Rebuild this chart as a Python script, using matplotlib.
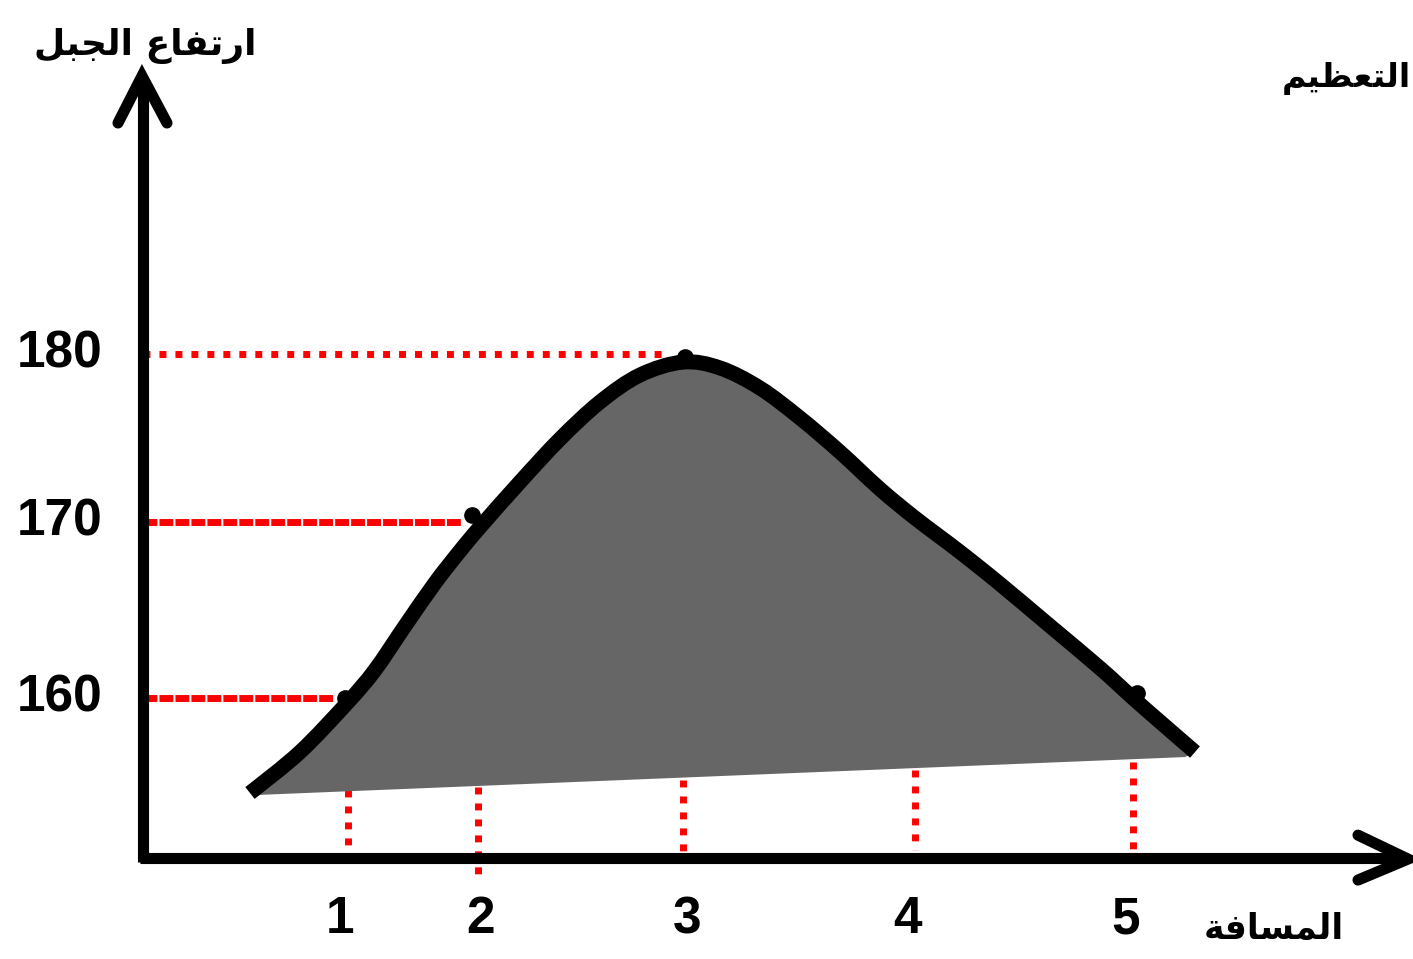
import numpy as np
import matplotlib
matplotlib.use("Agg")
import matplotlib.pyplot as plt
from matplotlib.path import Path
from matplotlib.patches import PathPatch

# ---------------- data ----------------
# mountain profile: distance (arbitrary units) and height
profile_d = [1.07, 1.57, 2.05, 2.32, 2.62, 2.92, 3.17, 3.37, 3.77, 4.17, 4.57,
             4.97, 5.40, 5.77, 6.17, 6.57, 6.97, 7.37, 7.72, 8.17, 8.57, 9.07,
             9.57, 9.90, 10.22, 10.52]
profile_h = [154.48, 156.86, 159.77, 161.63, 164.19, 166.69, 168.55, 169.94,
             172.56, 175.06, 177.21, 178.78, 179.53, 179.19, 178.02, 176.28,
             174.30, 172.15, 170.47, 168.49, 166.63, 164.19, 161.74, 160.00,
             158.37, 156.86]
# base of grey fill
base_d = [1.12, 10.42]
base_h = [154.36, 156.57]

# labelled points 1..5
point_d = [2.02, 3.29, 5.42, 9.94]
point_h = [160.0, 170.64, 179.83, 160.29]

# guide lines
hguide_h = [180.0, 170.23, 160.0]
hguide_end = [5.22, 3.19, 1.90]
hguide_style = ["dot", "dash", "dash"]
vguide_d = [2.05, 3.35, 5.40, 7.72, 9.90]
vguide_top = [154.65, 154.83, 155.23, 155.81, 156.28]
vguide_bot = [150.70, 149.71, 150.47, 151.16, 151.05]

xtick_labels = ["1", "2", "3", "4", "5"]
xtick_pos = [1.97, 3.38, 5.44, 7.64, 9.83]
ytick_labels = ["180", "170", "160"]
ytick_pos = [180.0, 170.23, 160.0]

title_y = "ارتفاع الجبل"
title_x = "المسافة"
title_corner = "التعظيم"

# ---------------- simple Arabic shaping ----------------
FORMS = {  # iso, fin, ini, med
    'ا': (0xFE8D, 0xFE8E, None, None),
    'ر': (0xFEAD, 0xFEAE, None, None),
    'ة': (0xFE93, 0xFE94, None, None),
    'ت': (0xFE95, 0xFE96, 0xFE97, 0xFE98),
    'ف': (0xFED1, 0xFED2, 0xFED3, 0xFED4),
    'ع': (0xFEC9, 0xFECA, 0xFECB, 0xFECC),
    'ل': (0xFEDD, 0xFEDE, 0xFEDF, 0xFEE0),
    'ج': (0xFE9D, 0xFE9E, 0xFE9F, 0xFEA0),
    'ب': (0xFE8F, 0xFE90, 0xFE91, 0xFE92),
    'ظ': (0xFEC5, 0xFEC6, 0xFEC7, 0xFEC8),
    'ي': (0xFEF1, 0xFEF2, 0xFEF3, 0xFEF4),
    'م': (0xFEE1, 0xFEE2, 0xFEE3, 0xFEE4),
    'س': (0xFEB1, 0xFEB2, 0xFEB3, 0xFEB4),
}


def shape(text):
    out = []
    for i, c in enumerate(text):
        if c not in FORMS:
            out.append(c)
            continue
        f = FORMS[c]
        dual = f[2] is not None
        prev = text[i - 1] if i > 0 else None
        nxt = text[i + 1] if i + 1 < len(text) else None
        jp = prev in FORMS and FORMS[prev][2] is not None
        jn = dual and nxt in FORMS
        if jp and jn:
            cp = f[3]
        elif jp:
            cp = f[1]
        elif jn:
            cp = f[2]
        else:
            cp = f[0]
        out.append(chr(cp))
    return "".join(out[::-1])


def smooth_path_vertices(xs, ys):
    """Catmull-Rom through the given points, expressed as cubic Bezier path."""
    P = np.column_stack([xs, ys])
    n = len(P)
    verts = [P[0]]
    codes = [Path.MOVETO]
    for i in range(n - 1):
        p0 = P[i - 1] if i > 0 else P[i]
        p1 = P[i]
        p2 = P[i + 1]
        p3 = P[i + 2] if i + 2 < n else P[i + 1]
        c1 = p1 + (p2 - p0) / 6.0
        c2 = p2 - (p3 - p1) / 6.0
        verts += [c1, c2, p2]
        codes += [Path.CURVE4] * 3
    return verts, codes


# ---------------- figure ----------------
fig = plt.figure(figsize=(14.13, 9.59), dpi=100)
ax = fig.add_axes([0, 0, 1, 1])
ax.set_xlim(-1.43, 12.70)
ax.set_ylim(144.83, 200.58)
ax.axis("off")

RED = "#ff0000"

verts, codes = smooth_path_vertices(profile_d, profile_h)

# grey fill (profile on top, straight base below)
fverts = list(verts) + [(base_d[1], base_h[1]), (base_d[0], base_h[0]),
                        verts[0]]
fcodes = list(codes) + [Path.LINETO, Path.LINETO, Path.CLOSEPOLY]
ax.add_patch(PathPatch(Path(fverts, fcodes), facecolor="#666666",
                       edgecolor="none", lw=0, zorder=2))

# guide lines
for h, e, s in zip(hguide_h, hguide_end, hguide_style):
    ln, = ax.plot([0, e], [h, h], color=RED, lw=5, zorder=1)
    if s == "dot":
        ln.set_dashes((1.0, 1.3))
    else:
        ln.set_dashes((2.0, 0.3))
    ln.set_dash_capstyle("butt")
for d, t, b in zip(vguide_d, vguide_top, vguide_bot):
    ln, = ax.plot([d, d], [t, b], color=RED, lw=5, zorder=1)
    ln.set_dashes((1.0, 1.3))
    ln.set_dash_capstyle("butt")

# profile line
ax.add_patch(PathPatch(Path(verts, codes), facecolor="none",
                       edgecolor="black", lw=10.8, zorder=4,
                       capstyle="butt", joinstyle="round"))
ax.plot(point_d, point_h, "o", color="black", ms=11, zorder=5)

# axes with arrows
AXW = 8
ax.plot([0, 0], [150.45, 196.0], color="black", lw=AXW, zorder=3,
        solid_capstyle="butt")
ax.plot([-0.03, 12.6], [150.70, 150.70], color="black", lw=AXW, zorder=3,
        solid_capstyle="butt")
ax.plot([-0.25, -0.01, 0.24], [193.43, 196.16, 193.43], color="black", lw=AXW,
        zorder=3, solid_capstyle="round", solid_joinstyle="miter")
ax.plot([12.15, 12.65, 12.15], [152.03, 150.64, 149.42], color="black", lw=AXW,
        zorder=3, solid_capstyle="round", solid_joinstyle="miter")

# tick labels
for lab, x in zip(xtick_labels, xtick_pos):
    ax.text(x, 147.1, lab, ha="center", va="center", fontsize=37,
            fontweight="bold", family="Liberation Sans")
for lab, y in zip(ytick_labels, ytick_pos):
    ax.text(-0.40, y, lab, ha="right", va="center", fontsize=37,
            fontweight="bold", family="Liberation Sans")

AR = ["DejaVu Sans"]
ax.text(0.02, 197.9, shape(title_y), ha="center", va="center", fontsize=26,
        fontweight="bold", family=AR)
ax.text(12.68, 196.0, shape(title_corner), ha="right", va="center",
        fontsize=24, fontweight="bold", family=AR)
ax.text(11.31, 146.6, shape(title_x), ha="center", va="center", fontsize=25,
        fontweight="bold", family=AR)

fig.savefig("out.png", dpi=100)
